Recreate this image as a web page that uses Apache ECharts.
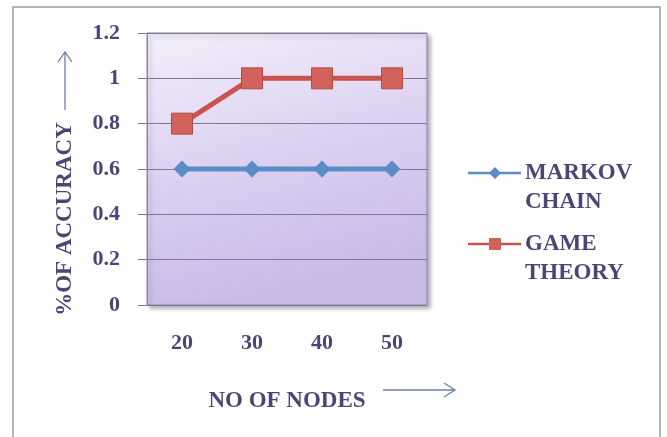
<!DOCTYPE html>
<html>
<head>
<meta charset="utf-8">
<script src="https://cdn.jsdelivr.net/npm/echarts@6/dist/echarts.min.js"></script>
<style>
  html, body { margin: 0; padding: 0; background: #ffffff; }
  #chart { width: 667px; height: 437px; }
</style>
</head>
<body>
<div id="chart"></div>
<script>
// Number of nodes on the x axis
const nodeCounts = ['20', '30', '40', '50'];
// Accuracy for each method
const markovChain = [0.6, 0.6, 0.6, 0.6];
const gameTheory = [0.8, 1, 1, 1];
// Y axis range
const yMin = 0, yMax = 1.2, yStep = 0.2;

const seriesNames = ['MARKOV\nCHAIN', 'GAME\nTHEORY'];

const textColor = '#4d4576';
const arrowColor = '#6e7ea8';
const blue = '#5a8dc6';
const red = '#c9524d';
const serif = '"Liberation Serif", "DejaVu Serif", serif';

const chart = echarts.init(document.getElementById('chart'));

chart.setOption({
  animation: false,
  backgroundColor: '#ffffff',
  grid: {
    left: 147, right: 240, top: 33, bottom: 132,
    show: true,
    borderColor: '#8d86a3',
    borderWidth: 1,
    backgroundColor: {
      type: 'linear', x: 0, y: 0, x2: 0.25, y2: 1,
      colorStops: [
        { offset: 0, color: '#f4f0fb' },
        { offset: 0.5, color: '#ddd2f1' },
        { offset: 1, color: '#c9bae8' }
      ]
    },
    shadowColor: 'rgba(80,70,100,0.45)',
    shadowBlur: 4,
    shadowOffsetX: 3,
    shadowOffsetY: 3
  },
  xAxis: {
    type: 'category',
    data: nodeCounts,
    boundaryGap: true,
    axisLine: { show: false },
    axisTick: { show: false },
    axisLabel: {
      margin: 27,
      color: textColor,
      fontFamily: serif,
      fontWeight: 'bold',
      fontSize: 22
    },
    name: 'NO OF NODES',
    nameLocation: 'middle',
    nameGap: 85,
    nameTextStyle: {
      color: textColor,
      fontFamily: serif,
      fontWeight: 'bold',
      fontSize: 23
    }
  },
  yAxis: {
    type: 'value',
    min: yMin, max: yMax, interval: yStep,
    axisLine: { show: true, lineStyle: { color: '#8d86a3', width: 1 } },
    axisTick: { show: true, length: 9, lineStyle: { color: '#7d7690' } },
    splitLine: { show: true, lineStyle: { color: '#7e7794', width: 1 } },
    axisLabel: {
      margin: 27,
      color: textColor,
      fontFamily: serif,
      fontWeight: 'bold',
      fontSize: 22
    }
  },
  series: [
    {
      name: seriesNames[0],
      type: 'line',
      data: markovChain,
      symbol: 'diamond',
      symbolSize: 17,
      itemStyle: { color: blue },
      lineStyle: { color: blue, width: 5 },
      z: 3
    },
    {
      name: seriesNames[1],
      type: 'line',
      data: gameTheory,
      symbol: 'rect',
      symbolSize: 21,
      itemStyle: { color: '#d2625c', borderColor: '#b84a45', borderWidth: 1 },
      lineStyle: { color: red, width: 5 },
      z: 4
    }
  ],
  graphic: [
    // outer frame
    { type: 'rect', shape: { x: 13, y: 7, width: 647, height: 440 },
      style: { fill: 'none', stroke: '#9a9a9a', lineWidth: 1.5 }, z: -1 },
    // y-axis title, reading upward
    { type: 'text', x: 65, y: 219, rotation: Math.PI / 2,
      style: { text: '%OF ACCURACY', fill: textColor, font: 'bold 23px ' + serif,
               align: 'center', verticalAlign: 'middle' } },
    // arrow next to the y-axis title
    { type: 'polyline', shape: { points: [[65, 110], [65, 53]] },
      style: { stroke: arrowColor, lineWidth: 1.3, fill: 'none' } },
    { type: 'polyline', shape: { points: [[58, 62], [65, 52], [72, 62]] },
      style: { stroke: arrowColor, lineWidth: 1.3, fill: 'none' } },
    // arrow after the x-axis title
    { type: 'polyline', shape: { points: [[383, 390], [454, 390]] },
      style: { stroke: arrowColor, lineWidth: 1.3, fill: 'none' } },
    { type: 'polyline', shape: { points: [[444, 383], [455, 390], [444, 397]] },
      style: { stroke: arrowColor, lineWidth: 1.3, fill: 'none' } },
    // legend: MARKOV CHAIN
    { type: 'line', shape: { x1: 468, y1: 173, x2: 521, y2: 173 },
      style: { stroke: blue, lineWidth: 2.5 } },
    { type: 'polygon', shape: { points: [[495, 167], [501, 173], [495, 179], [489, 173]] },
      style: { fill: blue } },
    { type: 'text', x: 525, y: 188,
      style: { text: 'MARKOV\nCHAIN', fill: textColor, font: 'bold 23px ' + serif,
               lineHeight: 29, verticalAlign: 'middle', align: 'left' } },
    // legend: GAME THEORY
    { type: 'line', shape: { x1: 468, y1: 244, x2: 521, y2: 244 },
      style: { stroke: red, lineWidth: 2.5 } },
    { type: 'rect', shape: { x: 489, y: 238, width: 12, height: 12 },
      style: { fill: '#d2625c' } },
    { type: 'text', x: 525, y: 259,
      style: { text: 'GAME\nTHEORY', fill: textColor, font: 'bold 23px ' + serif,
               lineHeight: 29, verticalAlign: 'middle', align: 'left' } }
  ]
});
</script>
</body>
</html>
